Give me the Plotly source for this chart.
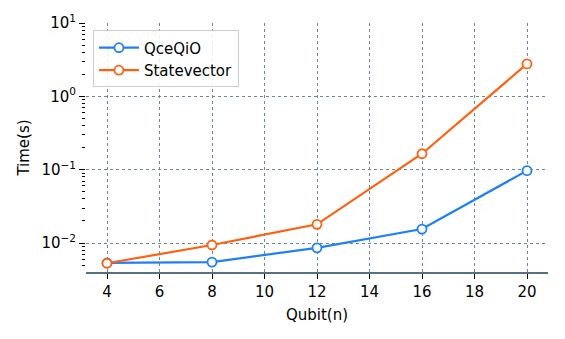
import plotly.graph_objects as go

# qubit counts and timings (seconds)
qubits = [4, 8, 12, 16, 20]
qceqio = [0.00535, 0.0055, 0.0086, 0.0155, 0.097]
statevector = [0.0053, 0.0094, 0.018, 0.165, 2.77]

y_ticks = [0.01, 0.1, 1, 10]
y_labels = ['10<sup>\u22122</sup>', '10<sup>\u22121</sup>', '10<sup>0</sup>', '10<sup>1</sup>']
y_minor = [k * 10 ** e for e in range(-3, 1) for k in range(2, 10)]

fig = go.Figure()
fig.add_trace(go.Scatter(x=qubits, y=qceqio, name='QceQiO', mode='lines+markers',
                         line=dict(color='#1f80f5', width=2.2),
                         marker=dict(symbol='circle', size=9, color='white',
                                     line=dict(color='#1f80f5', width=1.8))))
fig.add_trace(go.Scatter(x=qubits, y=statevector, name='Statevector', mode='lines+markers',
                         line=dict(color='#ff6010', width=2.2),
                         marker=dict(symbol='circle', size=9, color='white',
                                     line=dict(color='#ff6010', width=1.8))))
# invisible trace so the minor-tick axis gets drawn
fig.add_trace(go.Scatter(x=qubits, y=qceqio, yaxis='y2', mode='lines',
                         line=dict(width=0), opacity=0, showlegend=False, hoverinfo='skip'))

grid = dict(showgrid=True, gridcolor='#6e8698', griddash='dot', gridwidth=1)
fig.update_xaxes(range=[3.2, 20.8], tickvals=[4, 6, 8, 10, 12, 14, 16, 18, 20],
                 ticks='outside', ticklen=5, tickwidth=1.3, tickcolor='black',
                 tickfont=dict(size=15),
                 showline=True, linecolor='#56707f', linewidth=1.5, automargin=False,
                 title=dict(text='Qubit(n)', standoff=10, font=dict(size=15)),
                 zeroline=False, **grid)
fig.update_yaxes(type='log', range=[-2.395, 1], tickvals=y_ticks, ticktext=y_labels,
                 ticks='outside', ticklen=6, tickwidth=1.3, tickcolor='black',
                 tickfont=dict(size=15),
                 showline=False, automargin=False,
                 title=dict(text='Time(s)', standoff=8, font=dict(size=15)),
                 zeroline=False, **grid)

fig.update_layout(
    width=557, height=331,
    margin=dict(l=78, r=17, t=15, b=67),
    plot_bgcolor='white', paper_bgcolor='white',
    font=dict(family='DejaVu Sans', size=15, color='black'),
    yaxis2=dict(type='log', range=[-2.395, 1], overlaying='y', side='left',
                tickmode='array', tickvals=y_minor, showticklabels=False,
                ticks='outside', ticklen=3, tickwidth=1.3, tickcolor='black',
                showgrid=False, zeroline=False, showline=False, automargin=False),
    legend=dict(x=0.015, y=0.97, xanchor='left', yanchor='top',
                bordercolor='#cccccc', borderwidth=1, bgcolor='rgba(255,255,255,0.85)',
                font=dict(size=15), itemwidth=40, tracegroupgap=0),
)

fig.write_html('out.html')
